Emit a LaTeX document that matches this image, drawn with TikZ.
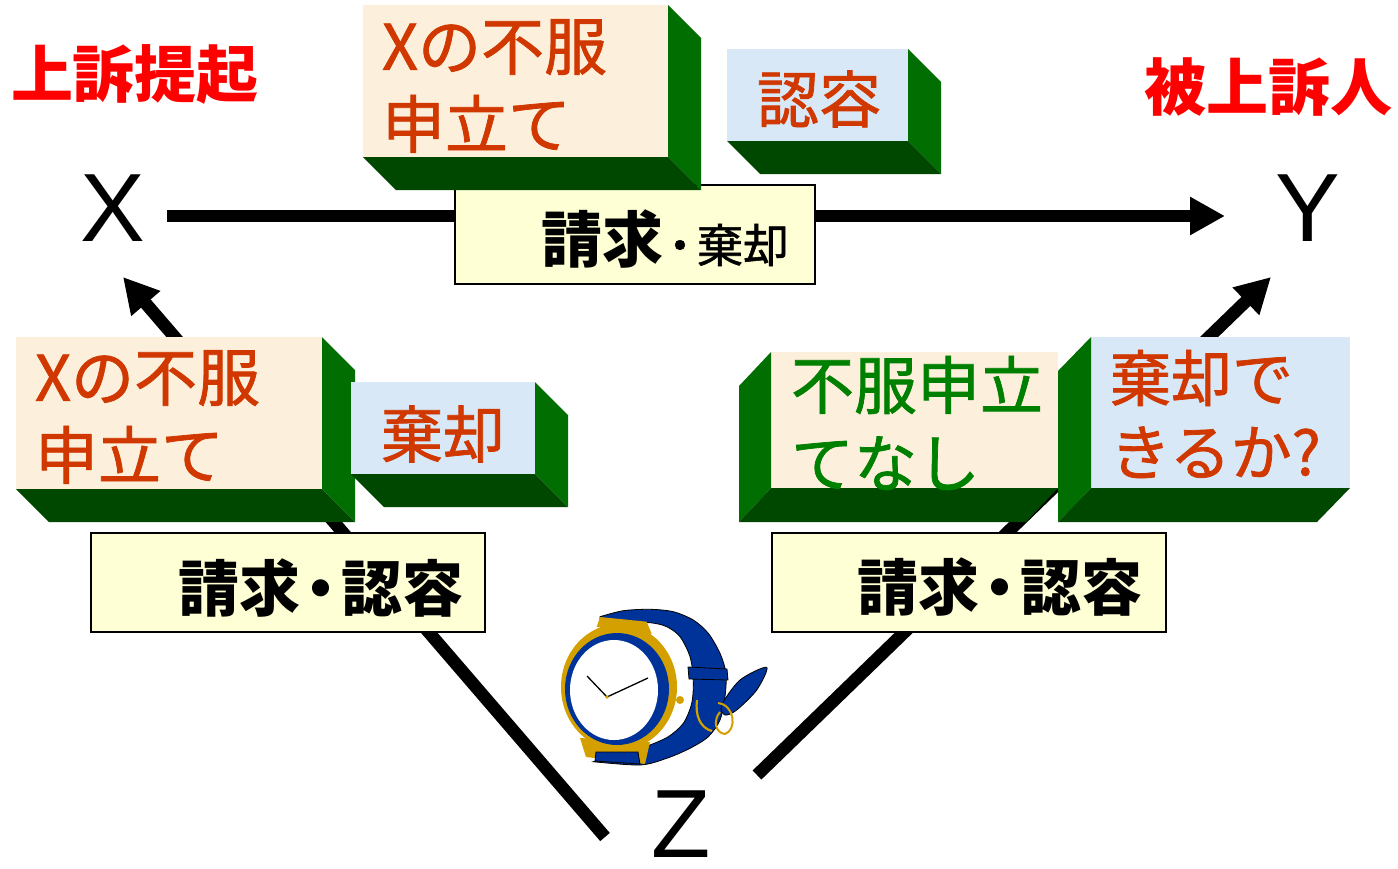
\documentclass[tikz,border=0pt]{standalone}
\usepackage{fontspec}
\setmainfont{Liberation Sans}
\newfontfamily\jp{Noto Sans CJK JP}
\newfontfamily\jpm{Noto Sans CJK JP}[FakeBold=1.2]
\usetikzlibrary{arrows.meta,calc}
\definecolor{hdred}{RGB}{255,0,0}
\definecolor{redor}{RGB}{208,56,0}
\definecolor{grtext}{RGB}{0,128,0}
\definecolor{side}{RGB}{0,110,0}
\definecolor{bot}{RGB}{0,72,0}
\definecolor{beige}{RGB}{252,240,220}
\definecolor{lblue}{RGB}{216,232,246}
\definecolor{lyellow}{RGB}{255,255,213}
\definecolor{wblue}{RGB}{0,51,153}
\definecolor{wgold}{RGB}{212,160,0}
\tikzset{
  lbl/.style={inner sep=0pt, outer sep=0pt},
  conn/.style={line width=12.6pt, draw=black},
  arr/.style={conn, -{Triangle[length=35pt,width=36pt]}},
  face/.style={inner sep=0pt, outer sep=0pt, anchor=north west, draw=none},
  claim/.style={draw=black, line width=2pt, fill=lyellow, inner sep=0pt, outer sep=0pt, anchor=north west, minimum height=99pt},
  boxtxt/.style={lbl, font=\jpm\fontsize{63}{78}\selectfont, align=left, anchor=west},
  wordtxt/.style={lbl, font=\jpm\fontsize{62}{70}\selectfont},
  claimtxt/.style={lbl, font=\jp\bfseries\fontsize{61}{70}\selectfont, anchor=west},
  partytxt/.style={lbl, font=\fontsize{97}{100}\selectfont},
  headtxt/.style={lbl, font=\jp\bfseries\fontsize{62}{70}\selectfont, text=hdred},
  wline/.style={draw=black, line width=0.8pt, fill=wblue},
}
\begin{document}
\begin{tikzpicture}[x=1pt,y=-1pt]
\fill[white] (0,0) rectangle (1398,868);
\useasboundingbox (0,0) rectangle (1398,868);

% party labels
\node[partytxt] (X) at (112.5,208.5) {X};
\node[partytxt] (Y) at (1307.5,208) {Y};
\node[partytxt] (Z) at (681,824) {Z};
\node[headtxt] (h1) at (135,74) {上訴提起};
\node[headtxt] (h2) at (1268,87) {被上訴人};

% connector end points
\coordinate (xs) at (167,216);
\coordinate (ye) at (1225,216);
\coordinate (zl) at (605,837);
\coordinate (xe) at (123,277);
\coordinate (zr) at (757,775);
\coordinate (ye2) at (1271,277);

\draw[arr] (xs) -- (ye);
\draw[arr] (zl) -- (xe);
\draw[arr] (zr) -- (ye2);

% claim boxes
\node[claim, minimum width=360pt] (c1) at (455,185) {};
\node[claim, minimum width=394pt] (c2) at (91,533) {};
\node[claim, minimum width=394pt] (c3) at (772,533) {};
\node[claimtxt] (ct1) at (541,239) {請求{\jpm\mdseries\fontsize{46}{50}\selectfont\kern-6pt・\kern-6pt棄却}};
\node[claimtxt] (ct2) at (178,588) {請求\kern-10pt・\kern-10pt認容};
\node[claimtxt] (ct3) at (857,587) {請求\kern-10pt・\kern-10pt認容};

% box 1 (top, Xの不服申立て)
\node[face, fill=beige, minimum width=305pt, minimum height=152pt] (b1) at (363,5) {};
\fill[side] (b1.north east) -- ++(33,33) -- ($(b1.south east)+(33,33)$) -- (b1.south east) -- cycle;
\fill[bot] (b1.south west) -- ++(33,33) -- ($(b1.south east)+(33,33)$) -- (b1.south east) -- cycle;
% box 2 (top, 認容)
\node[face, fill=lblue, minimum width=181pt, minimum height=92pt] (b2) at (727,49) {};
\fill[side] (b2.north east) -- ++(33,33) -- ($(b2.south east)+(33,33)$) -- (b2.south east) -- cycle;
\fill[bot] (b2.south west) -- ++(33,33) -- ($(b2.south east)+(33,33)$) -- (b2.south east) -- cycle;
% box 3 (left, Xの不服申立て)
\node[face, fill=beige, minimum width=306pt, minimum height=152pt] (b3) at (16,337) {};
\fill[side] (b3.north east) -- ++(33,33) -- ($(b3.south east)+(33,33)$) -- (b3.south east) -- cycle;
\fill[bot] (b3.south west) -- ++(33,33) -- ($(b3.south east)+(33,33)$) -- (b3.south east) -- cycle;
% box 4 (left, 棄却)
\node[face, fill=lblue, minimum width=184pt, minimum height=92pt] (b4) at (351,382) {};
\fill[side] (b4.north east) -- ++(33,33) -- ($(b4.south east)+(33,33)$) -- (b4.south east) -- cycle;
\fill[bot] (b4.south west) -- ++(33,33) -- ($(b4.south east)+(33,33)$) -- (b4.south east) -- cycle;
% box 5 (right, 不服申立てなし)
\node[face, fill=beige, minimum width=287pt, minimum height=136pt] (b5) at (771,352) {};
\fill[side] (b5.north west) -- ++(-32,34) -- ($(b5.south west)+(-32,34)$) -- (b5.south west) -- cycle;
\fill[bot] (b5.south west) -- ++(-32,34) -- ($(b5.south east)+(-32,34)$) -- (b5.south east) -- cycle;
% box 6 (right, 棄却できるか?)
\node[face, fill=lblue, minimum width=259pt, minimum height=151pt] (b6) at (1091,337) {};
\fill[side] (b6.north west) -- ++(-33,34) -- ($(b6.south west)+(-33,34)$) -- (b6.south west) -- cycle;
\fill[bot] (b6.south west) -- ++(-33,34) -- ($(b6.south east)+(-33,34)$) -- (b6.south east) -- cycle;

% box texts
\node[boxtxt, text=redor] (t1) at (382,86) {Xの不服\\申立て};
\node[wordtxt, text=redor] (t2) at (819,99) {認容};
\node[boxtxt, text=redor] (t3) at (35,417) {Xの不服\\申立て};
\node[wordtxt, text=redor] (t4) at (443,434) {棄却};
\node[boxtxt, text=grtext] (t5) at (791,423) {不服申立\\てなし};
\node[boxtxt, text=redor, font=\jpm\fontsize{61}{74}\selectfont] (t6) at (1110,414) {棄却で\\きるか?};

% wrist watch
\draw[wline] plot[smooth] coordinates {(600,616.7) (623.3,610.7) (650,609.3) (673.3,611.7) (693.3,620) (708.3,633.3) (720,653.3) (726,673.3) (725,696.7) (720,720) (708.3,736.7) (690,748.3) (666.7,758.3) (640,765) (593.3,761.7)}
  -- plot[smooth] coordinates {(650,745) (668.3,736.7) (683.3,723.3) (691.7,703.3) (693.3,680) (690,656.7) (680,636.7) (666.7,626.7) (650,622.7) (623,623) (600,624)} -- cycle;
\draw[wline] plot[smooth cycle] coordinates {(721.7,705) (740,680) (766.7,667.3) (756.7,690) (736.7,710) (725,715)};
\draw[wline] (688,667) -- (727,669) -- (728,680) -- (689,679) -- cycle;
\draw[wgold, line width=2.2pt] (697,700) .. controls (695,715) and (700,728) .. (712,731);
\draw[wgold, line width=2pt] (718,703) .. controls (735,705) and (737,730) .. (725,734) .. controls (715,733) and (713,720) .. (720,712);
\fill[wgold] (596.7,627) -- (600,617) -- (646.7,621.7) -- (651.7,634) -- cycle;
\fill[wgold] (580,738) -- (586,757) -- (645,764) -- (650,742) -- cycle;
\draw[wline] (596,752) -- (638,752) -- (640,764) -- (595,761) -- cycle;
\fill[wgold] (619,687) ellipse [x radius=58, y radius=63];
\fill[wblue] (617,689) ellipse [x radius=52, y radius=56];
\fill[white] (614,690) ellipse [x radius=44, y radius=50];
\draw[line width=1.3pt] (587,676) -- (607,697) -- (648,678);
\fill[wgold] (607,697) circle (1.8);
\fill[wgold] (680,700) circle (4);
\end{tikzpicture}
\end{document}
